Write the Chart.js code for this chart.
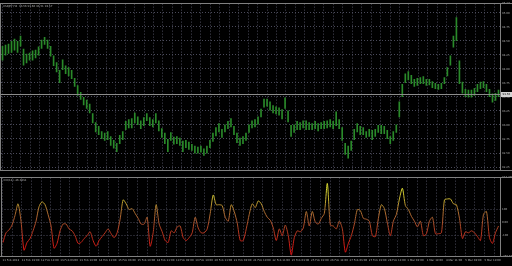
<!DOCTYPE html>
<html>
<head>
<meta charset="utf-8">
<script src="https://cdn.jsdelivr.net/npm/chart.js@4.4.1/dist/chart.umd.min.js"></script>
<style>
  html, body { margin: 0; padding: 0; background: #000; }
  #wrap { position: relative; width: 512px; height: 266px; overflow: hidden; background: #000; }
  canvas { position: absolute; left: 0; }
  #priceChart { top: 0; width: 512px; height: 174px; }
  #cciChart { top: 174px; width: 512px; height: 92px; }
</style>
</head>
<body>
<div id="wrap">
  <canvas id="priceChart" width="512" height="174"></canvas>
  <canvas id="cciChart" width="512" height="92"></canvas>
</div>
<script>
const priceTitle = "USDJPY,H4  93.56 93.60 93.51 93.57";
const cciTitle = "CCI(14) -26.0431";

// bar highs / lows, read left to right
const highs = [
  94.41, 94.43, 94.45, 94.50, 94.54, 94.50, 94.59, 94.36, 94.27, 94.29,
  94.33, 94.34, 94.40, 94.52, 94.57, 94.52, 94.41, 94.24, 94.12, 93.98,
  94.17, 94.06, 94.03, 93.98, 93.84, 93.71, 93.59, 93.50, 93.45, 93.38,
  93.21, 93.05, 92.98, 92.89, 92.86, 92.89, 92.80, 92.73, 92.68, 92.82,
  92.89, 93.07, 93.10, 93.12, 93.22, 93.15, 93.08, 93.14, 93.21, 93.14,
  93.10, 93.21, 93.08, 92.94, 92.86, 92.75, 92.87, 92.79, 92.80, 92.77,
  92.72, 92.73, 92.70, 92.66, 92.63, 92.61, 92.63, 92.58, 92.63, 92.73,
  92.86, 92.96, 93.03, 92.93, 93.01, 93.07, 93.12, 92.98, 92.86, 92.77,
  92.80, 92.86, 93.01, 93.08, 93.10, 93.15, 93.29, 93.47, 93.47, 93.42,
  93.35, 93.33, 93.31, 93.28, 93.49, 93.26, 93.00, 93.01, 93.07, 93.05,
  93.08, 93.08, 93.05, 93.03, 93.07, 93.03, 93.05, 93.07, 93.08, 93.10,
  93.07, 93.24, 93.10, 92.96, 92.68, 92.63, 92.72, 92.93, 93.03, 92.98,
  92.96, 92.89, 92.93, 92.91, 92.93, 93.00, 93.00, 92.98, 92.91, 92.80,
  92.89, 93.01, 93.42, 93.73, 93.92, 93.96, 93.89, 93.82, 93.84, 93.85,
  93.87, 93.82, 93.82, 93.78, 93.75, 93.73, 93.75, 93.85, 94.03, 94.24,
  94.59, 94.92, 94.15, 93.77, 93.64, 93.63, 93.63, 93.66, 93.73, 93.77,
  93.78, 93.73, 93.64, 93.56, 93.57, 93.63
];
const lows = [
  94.15, 94.24, 94.27, 94.29, 94.33, 94.29, 94.40, 94.06, 94.10, 94.15,
  94.15, 94.19, 94.24, 94.36, 94.43, 94.36, 94.22, 94.05, 93.94, 93.75,
  93.98, 93.91, 93.87, 93.82, 93.68, 93.52, 93.45, 93.35, 93.29, 93.21,
  93.03, 92.87, 92.82, 92.75, 92.72, 92.73, 92.63, 92.58, 92.52, 92.66,
  92.73, 92.91, 92.94, 92.94, 93.03, 93.00, 92.93, 92.98, 93.07, 92.98,
  92.96, 93.03, 92.89, 92.77, 92.66, 92.52, 92.72, 92.65, 92.66, 92.63,
  92.52, 92.59, 92.56, 92.54, 92.49, 92.49, 92.51, 92.45, 92.49, 92.59,
  92.70, 92.80, 92.87, 92.77, 92.87, 92.93, 92.96, 92.82, 92.68, 92.63,
  92.66, 92.72, 92.86, 92.94, 92.96, 93.01, 93.14, 93.31, 93.33, 93.26,
  93.21, 93.19, 93.17, 93.10, 93.29, 93.05, 92.79, 92.86, 92.91, 92.91,
  92.94, 92.91, 92.91, 92.91, 92.93, 92.89, 92.93, 92.93, 92.94, 92.96,
  92.93, 92.98, 92.93, 92.72, 92.47, 92.40, 92.54, 92.73, 92.87, 92.82,
  92.82, 92.77, 92.79, 92.73, 92.79, 92.86, 92.84, 92.84, 92.75, 92.66,
  92.72, 92.86, 93.14, 93.50, 93.75, 93.80, 93.73, 93.68, 93.70, 93.73,
  93.73, 93.70, 93.71, 93.66, 93.64, 93.63, 93.64, 93.73, 93.87, 94.06,
  94.38, 94.50, 93.73, 93.56, 93.50, 93.49, 93.49, 93.52, 93.59, 93.64,
  93.66, 93.59, 93.50, 93.40, 93.43, 93.50
];
const lastPrice = 93.56;

const cciValues = [
  -152, -78, -56, -19, 55, 144, 11, -211, -152, -122,
  -63, 11, 122, 159, 137, 63, -26, -196, -159, -63,
  -11, -11, -48, -63, -100, -159, -152, -122, -100, -70,
  -137, -181, -137, -107, -78, -48, -85, -115, -78, 26,
  174, 144, 100, 107, 70, 33, -11, -11, 41, -181,
  -78, 137, -11, -70, -137, -152, -63, -78, -33, -26,
  -115, -137, -115, -78, 41, -41, -78, -78, -48, 70,
  211, 137, 137, 130, 41, 11, 137, 85, -4, -137,
  -137, -48, 63, 144, 115, 166, 144, 85, 41, 18,
  -41, -137, -48, -100, -19, -100, -248, -115, -63, -70,
  -41, 85, -26, 85, 4, -11, 33, 70, 300, -19,
  -26, -48, 11, -48, -226, -159, -100, -11, 100, 92,
  33, 26, 11, -100, -107, 33, 137, 107, -4, -100,
  11, 63, 181, 263, 130, 100, 48, 11, -33, 11,
  -100, -85, 11, 41, -85, -85, -78, 174, 181, 181,
  144, 137, 33, -122, -70, -78, -63, -78, -107, -137,
  63, 85, -115, -159, -78, -26
];

const priceTicks = [92.25, 92.50, 92.75, 93.00, 93.25, 93.50, 93.75, 94.00, 94.25, 94.50, 94.75, 95.00];
const priceMin = 92.19, priceMax = 95.165;
const cciLevels = [-100, 0, 100];
const cciMin = -255.6, cciMax = 344.4;

const timeLabels = [
  "11 Feb 2013", "11 Feb 19:00", "12 Feb 11:00", "13 Feb 03:00", "13 Feb 19:00",
  "14 Feb 11:00", "15 Feb 03:00", "15 Feb 19:00", "18 Feb 11:00", "19 Feb 03:00",
  "19 Feb 19:00", "20 Feb 11:00", "21 Feb 03:00", "21 Feb 19:00", "22 Feb 11:00",
  "25 Feb 03:00", "25 Feb 19:00", "26 Feb 11:00", "27 Feb 03:00", "27 Feb 19:00",
  "28 Feb 11:00", "1 Mar 03:00", "1 Mar 19:00", "4 Mar 11:00", "5 Mar 03:00", "5 Mar 19:00"
];

const textColor = "#b0b0b0";
const gridColor = "#4a4a5a";
const frameColor = "#808080";
const tinyFont = { size: 2.7, family: "DejaVu Sans" };

// vertical grid: one line per half label step
const gridAxis = (showLabels) => ({
  type: "linear", position: "bottom", min: -0.104, max: 51.61,
  afterBuildTicks: s => { s.ticks = []; for (let k = 0; k < timeLabels.length * 2; k++) s.ticks.push({ value: k }); },
  afterFit: s => { s.height = showLabels ? 10 : 0; },
  ticks: {
    display: showLabels, autoSkip: false, maxRotation: 0, align: "start", padding: 2.5,
    color: textColor, font: tinyFont,
    callback: v => (v % 2 === 0 ? timeLabels[v / 2] : "")
  },
  grid: { color: gridColor, lineWidth: 1, drawTicks: false },
  border: { display: false, dash: [1, 2] }
});

function drawFrame(chart) {
  const { ctx, chartArea: a, width } = chart;
  const t = Math.round(a.top) - 0.5, b = Math.round(a.bottom) + 0.5;
  const l = Math.round(a.left) - 0.5, r = Math.round(a.right) + 0.5;
  ctx.save();
  ctx.strokeStyle = frameColor;
  ctx.lineWidth = 1;
  ctx.beginPath();
  ctx.moveTo(0, t); ctx.lineTo(width, t);
  ctx.moveTo(0, b); ctx.lineTo(width, b);
  ctx.moveTo(l, t); ctx.lineTo(l, b);
  ctx.moveTo(r, t); ctx.lineTo(r, b);
  ctx.stroke();
  ctx.restore();
}

function drawTitle(chart, text) {
  const { ctx, chartArea: a } = chart;
  ctx.save();
  ctx.fillStyle = textColor;
  ctx.font = tinyFont.size + "px " + tinyFont.family;
  ctx.textBaseline = "middle";
  ctx.fillText(text, a.left + 2, a.top + 3);
  ctx.restore();
}

const pricePlugin = {
  id: "priceDeco",
  afterDraw(chart) {
    const { ctx, chartArea: a, scales } = chart;
    const y = Math.round(scales.y.getPixelForValue(lastPrice)) + 0.5;
    ctx.save();
    ctx.strokeStyle = "#8c8c8c";
    ctx.lineWidth = 1;
    ctx.beginPath();
    ctx.moveTo(a.left, y); ctx.lineTo(a.right, y);
    ctx.stroke();
    ctx.fillStyle = "#d4d4d4";
    ctx.fillRect(a.right + 1, y - 2.5, chart.width - a.right - 1, 5);
    ctx.fillStyle = "#000";
    ctx.font = tinyFont.size + "px " + tinyFont.family;
    ctx.textBaseline = "middle";
    ctx.fillText(lastPrice.toFixed(2), a.right + 2.5, y);
    ctx.restore();
    drawFrame(chart);
    drawTitle(chart, priceTitle);
  }
};

const cciPlugin = {
  id: "cciDeco",
  afterDraw(chart) {
    drawFrame(chart);
    drawTitle(chart, cciTitle);
  }
};

new Chart(document.getElementById("priceChart"), {
  type: "bar",
  data: {
    labels: highs.map((_, i) => i),
    datasets: [{
      data: lows.map((l, i) => [l, highs[i]]),
      backgroundColor: "#2a8a2a",
      borderWidth: 0,
      barPercentage: 0.55,
      categoryPercentage: 1
    }]
  },
  options: {
    responsive: false,
    animation: false,
    layout: { padding: { top: 2, bottom: 2, left: 1, right: 0 } },
    plugins: { legend: { display: false }, tooltip: { enabled: false } },
    scales: {
      x: { type: "category", display: false },
      xg: gridAxis(false),
      y: {
        position: "right", min: priceMin, max: priceMax,
        afterBuildTicks: s => { s.ticks = priceTicks.concat([priceMax]).map(v => ({ value: v })); },
        afterFit: s => { s.width = 12; },
        ticks: { color: textColor, font: tinyFont, padding: 2, callback: v => v.toFixed(2) },
        grid: { color: c => (c.tick && c.tick.value === priceMax ? "transparent" : gridColor), drawTicks: false },
        border: { display: false, dash: [1, 2] }
      }
    }
  },
  plugins: [pricePlugin]
});

function cciStroke(context) {
  const chart = context.chart;
  const { ctx, chartArea, scales } = chart;
  if (!chartArea) return "#a05a30";
  const g = ctx.createLinearGradient(0, scales.y.getPixelForValue(260), 0, scales.y.getPixelForValue(-220));
  g.addColorStop(0, "#d8d830");
  g.addColorStop(0.2, "#c0a830");
  g.addColorStop(0.32, "#b07830");
  g.addColorStop(0.5, "#a85a30");
  g.addColorStop(0.68, "#b03820");
  g.addColorStop(1, "#e01010");
  return g;
}

new Chart(document.getElementById("cciChart"), {
  type: "line",
  data: {
    labels: cciValues.map((_, i) => i),
    datasets: [{
      data: cciValues,
      borderColor: cciStroke,
      borderWidth: 1,
      pointRadius: 0,
      tension: 0.25,
      fill: false
    }]
  },
  options: {
    responsive: false,
    animation: false,
    layout: { padding: { top: 1, bottom: 0, left: 1, right: 0 } },
    plugins: { legend: { display: false }, tooltip: { enabled: false } },
    scales: {
      x: { type: "category", display: false, offset: true },
      xg: gridAxis(true),
      y: {
        position: "right", min: cciMin, max: cciMax,
        afterBuildTicks: s => { s.ticks = [cciMin].concat(cciLevels, [cciMax]).map(v => ({ value: v })); },
        afterFit: s => { s.width = 12; },
        ticks: {
          color: textColor, font: tinyFont, padding: 2,
          callback: v => (v === cciMin || v === cciMax ? v.toFixed(4) : v === 0 ? "0.00" : String(v))
        },
        grid: { color: c => (c.tick && cciLevels.includes(c.tick.value) ? gridColor : "transparent"), drawTicks: false },
        border: { display: false, dash: [1, 2] }
      }
    }
  },
  plugins: [cciPlugin]
});
</script>
</body>
</html>
